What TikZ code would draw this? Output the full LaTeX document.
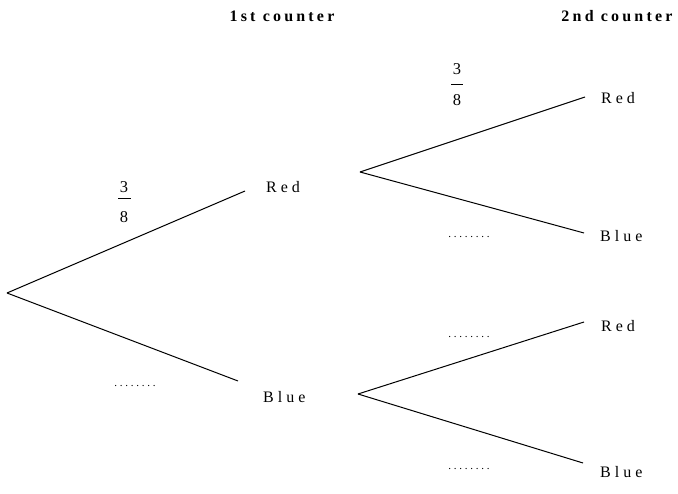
\documentclass[tikz,border=0pt]{standalone}
\usepackage{fontspec}
\setmainfont{Liberation Serif}
\newfontfamily\spaced[LetterSpace=25]{Liberation Serif}
\newfontfamily\hspaced[LetterSpace=20]{Liberation Serif}
\begin{document}
\begin{tikzpicture}[x=1pt,y=-1pt,
  lbl/.style={font=\spaced\fontsize{16}{18}\selectfont, inner sep=0pt, anchor=west},
  head/.style={font=\hspaced\bfseries\fontsize{16}{18}\selectfont, inner sep=0pt},
  num/.style={font=\fontsize{16.5}{18}\selectfont, inner sep=0pt},
  dots/.style={font=\spaced\fontsize{11}{13}\selectfont, inner sep=0pt},
  br/.style={line width=1pt},
  bar/.style={line width=0.6pt}]
\useasboundingbox (0,0) rectangle (678,494);
\node[head] (h1) at (282,16) {1st counter};
\node[head] (h2) at (617,16) {2nd counter};
\coordinate (root) at (7,293);
\coordinate (r1) at (245,191);
\coordinate (b1) at (238,381);
\coordinate (rs) at (360,172);
\coordinate (bs) at (358,394);
\coordinate (rr) at (585,97);
\coordinate (rb) at (584,233);
\coordinate (br2) at (584,322);
\coordinate (bb) at (583,463);
\draw[br] (root) -- (r1);
\draw[br] (root) -- (b1);
\draw[br] (rs) -- (rr);
\draw[br] (rs) -- (rb);
\draw[br] (bs) -- (br2);
\draw[br] (bs) -- (bb);
\node[lbl] (nR1) at (266,187.5) {Red};
\node[lbl] (nB1) at (263,397) {Blue};
\node[lbl] (nRR) at (601,98.5) {Red};
\node[lbl] (nRB) at (600,236) {Blue};
\node[lbl] (nBR) at (601,326) {Red};
\node[lbl] (nBB) at (600,472) {Blue};
% fractions
\node[num] (f1n) at (124,187) {3};
\node[num] (f1d) at (124,217) {8};
\coordinate (f1l) at (118,198.5);
\coordinate (f1r) at (131,198.5);
\draw[bar] (f1l) -- (f1r);
\node[num] (f2n) at (457,69) {3};
\node[num] (f2d) at (457,100) {8};
\coordinate (f2l) at (451,84);
\coordinate (f2r) at (463,84);
\draw[bar] (f2l) -- (f2r);
\node[dots] (d1) at (135,386) {........};
\node[dots] (d2) at (469,237) {........};
\node[dots] (d3) at (469,337) {........};
\node[dots] (d4) at (469,469) {........};
\end{tikzpicture}
\end{document}
